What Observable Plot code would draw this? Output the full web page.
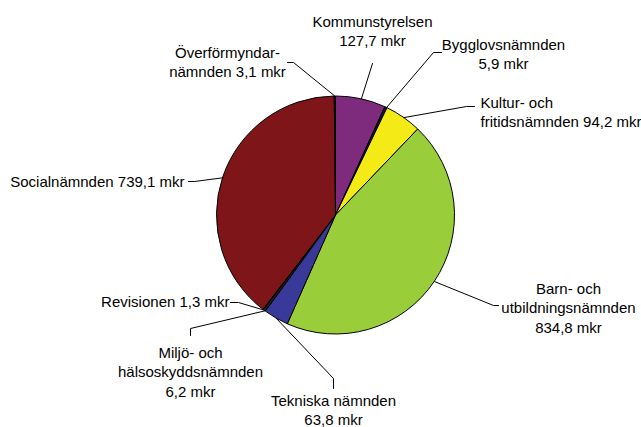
<!DOCTYPE html>
<html>
<head>
<meta charset="utf-8">
<script src="https://cdn.jsdelivr.net/npm/d3@7"></script>
<script src="https://cdn.jsdelivr.net/npm/@observablehq/plot@0.6"></script>
<style>
  html, body { margin: 0; padding: 0; background: #fff; }
  #chart svg { display: block; }
</style>
</head>
<body>
<div id="chart"></div>
<script>
// ---- Data ----
const names = ["Kommunstyrelsen", "Bygglovsnämnden", "Kultur- och fritidsnämnden", "Barn- och utbildningsnämnden",
  "Tekniska nämnden", "Miljö- och hälsoskyddsnämnden", "Revisionen", "Socialnämnden", "Överförmyndarnämnden"];
const values = [127.7, 5.9, 94.2, 834.8, 63.8, 6.2, 1.3, 739.1, 3.1];
const labels = ["Kommunstyrelsen\n127,7 mkr", "Bygglovsnämnden\n5,9 mkr", "Kultur- och\nfritidsnämnden 94,2 mkr",
  "Barn- och\nutbildningsnämnden\n834,8 mkr", "Tekniska nämnden\n63,8 mkr", "Miljö- och\nhälsoskyddsnämnden\n6,2 mkr",
  "Revisionen 1,3 mkr", "Socialnämnden 739,1 mkr", "Överförmyndar-\nnämnden 3,1 mkr"];
const colors = ["#7E2B7E", "#101040", "#F4EA16", "#9ACD3A", "#393999", "#202020", "#303030", "#7E1619", "#1F2070"];

// ---- Layout (pixel units) ----
const W = 641, H = 427;
const CX = 335.5, CY = 215, R = 119;
// label anchor position, text-anchor, leader elbow points
const labelLayout = [
  {x: 372, y: 29.5, anchor: "middle", elbow: [[372, 63]]},
  {x: 503, y: 53, anchor: "middle", elbow: [[433, 52], [441, 52]]},
  {x: 480, y: 110.5, anchor: "start", elbow: [[466, 106], [474, 106]]},
  {x: 568, y: 306.5, anchor: "middle", elbow: [[493, 305], [498, 305]]},
  {x: 333, y: 409, anchor: "middle", elbow: [[333, 378], [333, 388]]},
  {x: 190, y: 370.5, anchor: "middle", elbow: [[190, 328], [190, 335]]},
  {x: 229, y: 300.5, anchor: "end", elbow: [[238, 302], [230, 302]]},
  {x: 184, y: 180, anchor: "end", elbow: [[194, 181], [188, 181]]},
  {x: 227, y: 61, anchor: "middle", elbow: [[293, 62], [287, 62]]}
];

const arcs = d3.pie().sort(null).value(d => d)(values);
const slices = arcs.map((a, i) => ({name: names[i], value: values[i], color: colors[i], start: a.startAngle, end: a.endAngle}));

const leaderPts = [];
slices.forEach((s, i) => {
  const mid = (s.start + s.end) / 2;
  leaderPts.push({name: s.name, x: CX + R * Math.sin(mid), y: CY - R * Math.cos(mid)});
  labelLayout[i].elbow.forEach(([x, y]) => leaderPts.push({name: s.name, x, y}));
});
const labelData = labels.map((t, i) => ({text: t, ...labelLayout[i]}));

function pieMark(index, scales) {
  const g = d3.create("svg:g");
  const cx = scales.x(CX), cy = scales.y(CY);
  const r = Math.abs(scales.x(CX + R) - cx);
  const arc = d3.arc().innerRadius(0).outerRadius(r);
  g.attr("transform", `translate(${cx},${cy})`);
  g.selectAll("path").data(slices).join("path")
    .attr("d", d => arc({startAngle: d.start, endAngle: d.end}))
    .attr("fill", d => d.color)
    .attr("stroke", "#000")
    .attr("stroke-width", 1)
    .attr("stroke-linejoin", "round");
  return g.node();
}

const textStyle = {fontFamily: "'Liberation Sans', Arial, sans-serif", fontSize: 15, fill: "#000", lineHeight: 1.29};

const chart = Plot.plot({
  width: W, height: H,
  margin: 0,
  x: {domain: [0, W], range: [0, W], axis: null},
  y: {domain: [0, H], range: [0, H], axis: null},
  style: {background: "#fff", fontFamily: "'Liberation Sans', Arial, sans-serif"},
  marks: [
    pieMark,
    Plot.line(leaderPts, {x: "x", y: "y", z: "name", stroke: "#000", strokeWidth: 1}),
    Plot.text(labelData.filter(d => d.anchor === "middle"), {x: "x", y: "y", text: "text", textAnchor: "middle", lineAnchor: "middle", ...textStyle}),
    Plot.text(labelData.filter(d => d.anchor === "start"), {x: "x", y: "y", text: "text", textAnchor: "start", lineAnchor: "middle", ...textStyle}),
    Plot.text(labelData.filter(d => d.anchor === "end"), {x: "x", y: "y", text: "text", textAnchor: "end", lineAnchor: "middle", ...textStyle})
  ]
});
document.getElementById("chart").appendChild(chart);
</script>
</body>
</html>
